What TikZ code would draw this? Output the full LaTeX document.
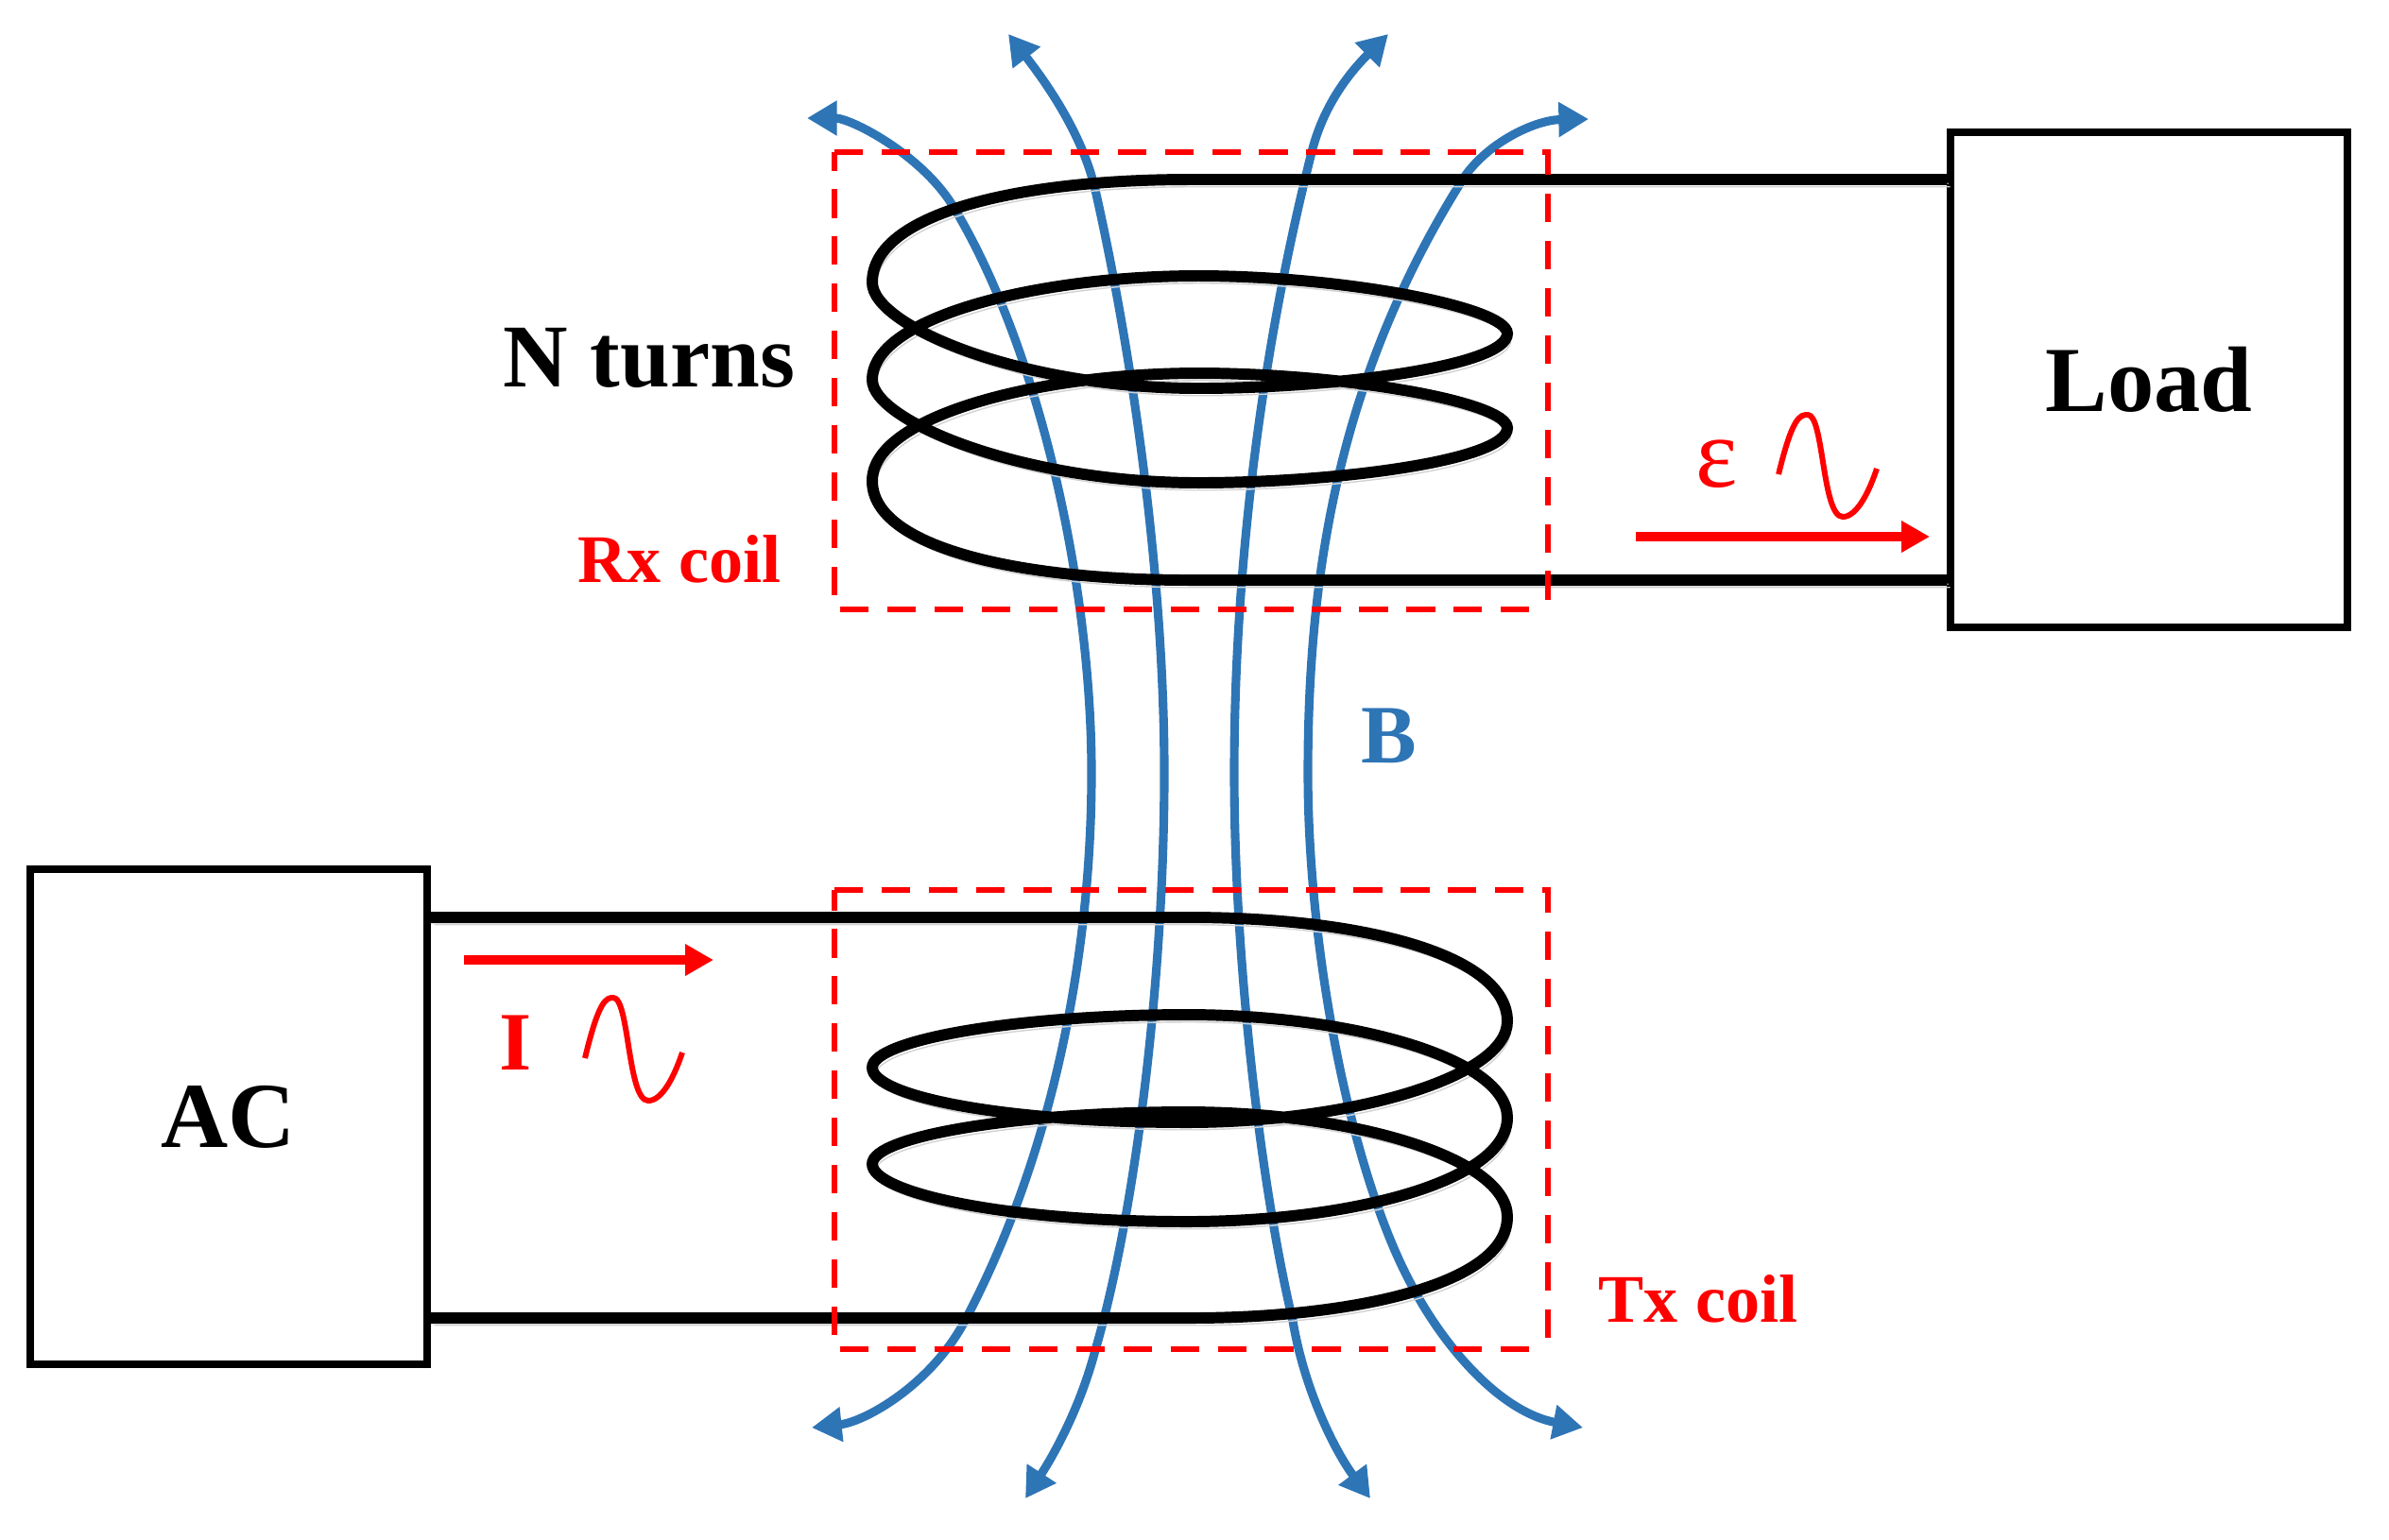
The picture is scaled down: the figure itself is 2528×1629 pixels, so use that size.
\documentclass[tikz,border=0pt]{standalone}
\usepackage{fontspec}
\setmainfont{Liberation Serif}
\usetikzlibrary{arrows.meta}
\definecolor{fieldblue}{RGB}{46,117,182}
\tikzset{
  box/.style={draw,line width=2.2pt,minimum width=4.2cm,minimum height=5.24cm,inner sep=0pt,
    font=\fontsize{28}{30}\selectfont\bfseries},
  wire/.style={line width=3.4pt,
    preaction={draw=black!18,transform canvas={xshift=1pt,yshift=-2.2pt}},
    preaction={draw=black!45,transform canvas={xshift=.6pt,yshift=-1.2pt}}},
  field/.style={draw=fieldblue,line width=2.6pt,>={Triangle[length=9pt,width=10pt]},<->},
  coilbox/.style={red,line width=1.6pt,dash pattern=on 8.6pt off 5.6pt},
  flow/.style={red,line width=3pt,>={Triangle[length=8.5pt,width=9pt]},->},
  wave/.style={red,line width=1.7pt},
  redlbl/.style={red,font=\fontsize{20.5}{22}\selectfont\bfseries,inner sep=0pt},
  biglbl/.style={font=\fontsize{25}{27}\selectfont\bfseries,inner sep=0pt}
}
\begin{document}
\begin{tikzpicture}[x=0.01cm,y=-0.01cm]
\useasboundingbox (0,0) rectangle (2528,1629);
\node[box] (load) at (2274,402) {Load};
\node[box] (ac) at (242,1182) {AC};
\coordinate (rxtop) at (1259,190);
\coordinate (rxbot) at (1259,614);
\coordinate (txtop) at (1259,971);
\coordinate (txbot) at (1259,1395);
\draw[field] (859,1511) .. controls (915,1505) and (985,1466) .. (1021,1398)
  .. controls (1110,1230) and (1155,1020) .. (1155,818)
  .. controls (1155,620) and (1100,370) .. (1009,219)
  .. controls (975,163) and (900,125) .. (854,125);
\draw[field] (1085,1586) .. controls (1115,1540) and (1143,1490) .. (1159,1429)
  .. controls (1200,1290) and (1232,1040) .. (1232,818)
  .. controls (1232,600) and (1195,360) .. (1159,201)
  .. controls (1145,140) and (1105,85) .. (1067,36);
\draw[field] (1450,1586) .. controls (1412,1535) and (1380,1470) .. (1368,1398)
  .. controls (1335,1260) and (1306,1020) .. (1306,818)
  .. controls (1306,600) and (1335,370) .. (1388,161)
  .. controls (1402,105) and (1435,70) .. (1469,36);
\draw[field] (1675,1511) .. controls (1590,1495) and (1530,1430) .. (1492,1357)
  .. controls (1430,1240) and (1384,1010) .. (1384,818)
  .. controls (1384,610) and (1415,400) .. (1549,188)
  .. controls (1575,150) and (1625,127) .. (1681,126);
\draw[wire] (load.west |- rxtop) -- (rxtop)
  .. controls (1080,190) and (923,225) .. (923,299)
  .. controls (923,345) and (1080,411) .. (1268,411)
  .. controls (1410,411) and (1595,388) .. (1595,353)
  .. controls (1595,325) and (1420,292) .. (1268,292)
  .. controls (1100,292) and (923,335) .. (923,402)
  .. controls (923,445) and (1080,511) .. (1268,511)
  .. controls (1410,511) and (1595,488) .. (1595,453)
  .. controls (1595,425) and (1420,395) .. (1268,395)
  .. controls (1100,395) and (923,440) .. (923,509)
  .. controls (923,580) and (1080,614) .. (rxbot) -- (load.west |- rxbot);
\draw[wire] (ac.east |- txtop) -- (txtop)
  .. controls (1440,971) and (1595,1010) .. (1595,1081)
  .. controls (1595,1140) and (1430,1188) .. (1256,1188)
  .. controls (1060,1188) and (923,1160) .. (923,1130)
  .. controls (923,1100) and (1080,1074) .. (1256,1074)
  .. controls (1430,1074) and (1595,1120) .. (1595,1183)
  .. controls (1595,1250) and (1430,1293) .. (1256,1293)
  .. controls (1060,1293) and (923,1262) .. (923,1232)
  .. controls (923,1202) and (1080,1177) .. (1256,1177)
  .. controls (1430,1177) and (1595,1225) .. (1595,1288)
  .. controls (1595,1360) and (1430,1395) .. (txbot) -- (ac.east |- txbot);
\draw[coilbox] (883,161) -- (1638,161) -- (1638,645);
\draw[coilbox] (883,630) -- (883,161) (889,645) -- (1638,645);
\draw[coilbox] (883,942) -- (1638,942) -- (1638,1428);
\draw[coilbox] (883,1413) -- (883,942) (889,1428) -- (1638,1428);
\draw[flow] (491,1016) -- (755,1016);
\draw[flow] (1731,568) -- (2042,568);
\draw[wave] (619,1120) .. controls (634,1057) and (642,1056) .. (649,1056) .. controls (666,1056) and (664,1165) .. (686,1165) .. controls (701,1165) and (714,1138) .. (722,1114);
\draw[wave] (1882,502) .. controls (1897,440) and (1905,439) .. (1913,439) .. controls (1930,439) and (1928,547) .. (1950,547) .. controls (1965,547) and (1978,520) .. (1986,496);
\node[font=\fontsize{27}{29}\selectfont\bfseries,inner sep=0pt] (nturns) at (687,379) {N turns};
\node[redlbl] (rxlbl) at (719,592) {Rx coil};
\node[redlbl] (txlbl) at (1797,1375) {Tx coil};
\node[biglbl,fieldblue] (blbl) at (1470,779) {B};
\node[biglbl,red] (ilbl) at (546,1104) {I};
\node[red,font=\fontsize{30}{32}\selectfont,inner sep=0pt] (emflbl) at (1817,491) {ε};
\end{tikzpicture}
\end{document}
